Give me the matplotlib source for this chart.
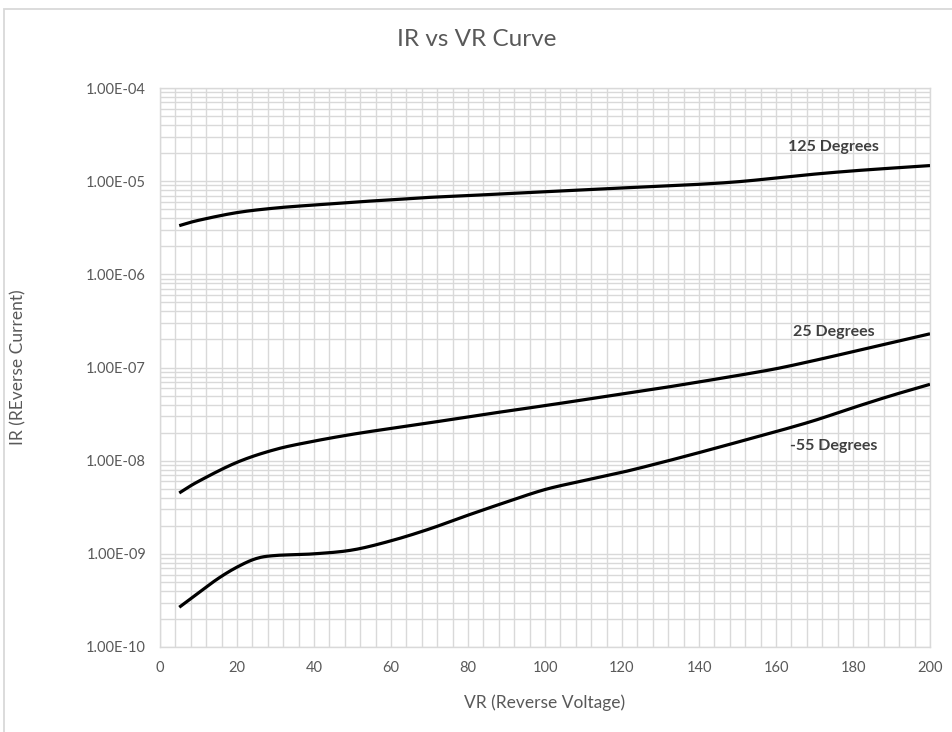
import matplotlib
matplotlib.use("Agg")
import matplotlib.pyplot as plt
from matplotlib.ticker import LogLocator, MultipleLocator, FixedLocator, NullFormatter
from matplotlib.patches import Rectangle
import numpy as np

plt.rcParams['font.family'] = ['Lato', 'DejaVu Sans']

# ---------------- data ----------------
vr = [5, 10, 20, 30, 40, 50, 60, 70, 80, 90, 100, 110, 120, 130, 140, 150, 160, 170, 180, 190, 200]

ir_125 = [3.33e-6, 3.8e-6, 4.6e-6, 5.15e-6, 5.55e-6, 5.95e-6, 6.3e-6, 6.7e-6, 7.0e-6, 7.35e-6,
          7.7e-6, 8.05e-6, 8.45e-6, 8.85e-6, 9.25e-6, 9.85e-6, 1.08e-5, 1.19e-5, 1.29e-5, 1.38e-5, 1.47e-5]

ir_25 = [4.5e-9, 6.0e-9, 9.6e-9, 1.32e-8, 1.62e-8, 1.92e-8, 2.22e-8, 2.55e-8, 2.95e-8, 3.4e-8,
         3.9e-8, 4.5e-8, 5.2e-8, 6.0e-8, 7.0e-8, 8.2e-8, 9.7e-8, 1.19e-7, 1.48e-7, 1.85e-7, 2.3e-7]

vr_m55 = [5, 10, 15, 20, 25, 30, 40, 50, 60, 70, 80, 90, 100, 110, 120, 130, 140, 150, 160, 170, 180, 190, 200]
ir_m55 = [2.67e-10, 3.8e-10, 5.4e-10, 7.2e-10, 8.9e-10, 9.6e-10, 1.0e-9, 1.1e-9, 1.38e-9, 1.85e-9,
          2.6e-9, 3.6e-9, 4.9e-9, 6.1e-9, 7.5e-9, 9.5e-9, 1.22e-8, 1.58e-8, 2.05e-8, 2.7e-8, 3.7e-8, 5.0e-8, 6.6e-8]

series_labels = ["125 Degrees", "25 Degrees", "-55 Degrees"]
label_x = [175, 175, 175]
label_y = [2.3e-5, 2.4e-7, 1.45e-8]

x_ticks = [0, 20, 40, 60, 80, 100, 120, 140, 160, 180, 200]
y_ticks = [1e-10, 1e-9, 1e-8, 1e-7, 1e-6, 1e-5, 1e-4]
y_tick_labels = ["1.00E-10", "1.00E-09", "1.00E-08", "1.00E-07", "1.00E-06", "1.00E-05", "1.00E-04"]

title = "IR vs VR Curve"
xlabel = "VR (Reverse Voltage)"
ylabel = "IR (REverse Current)"


def smooth(xs, ys, n=16):
    """Catmull-Rom smoothing (like Excel's smoothed line), in x / log10(y) space."""
    x = np.asarray(xs, float)
    y = np.log10(np.asarray(ys, float))
    px = np.concatenate([[2 * x[0] - x[1]], x, [2 * x[-1] - x[-2]]])
    py = np.concatenate([[2 * y[0] - y[1]], y, [2 * y[-1] - y[-2]]])
    ox, oy = [], []
    t = np.linspace(0, 1, n, endpoint=False)
    for i in range(1, len(px) - 2):
        for arr, out in ((px, ox), (py, oy)):
            p0, p1, p2, p3 = arr[i - 1], arr[i], arr[i + 1], arr[i + 2]
            out.extend(0.5 * ((2 * p1) + (-p0 + p2) * t + (2 * p0 - 5 * p1 + 4 * p2 - p3) * t ** 2
                              + (-p0 + 3 * p1 - 3 * p2 + p3) * t ** 3))
    ox.append(x[-1])
    oy.append(y[-1])
    return np.array(ox), 10 ** np.array(oy)


# ---------------- figure ----------------
W, H = 952, 732
fig = plt.figure(figsize=(W / 100, H / 100), dpi=100)
ax = fig.add_axes([160 / W, 1 - 647 / H, (930 - 160) / W, (647 - 88) / H])

grid_c = "#d9d9d9"
text_c = "#595959"

# chart border (light grey)
fig.patches.append(Rectangle((4 / W, -0.05), 1.2, 1 - 9 / H + 0.05, transform=fig.transFigure,
                             fill=False, edgecolor=grid_c, lw=1.3, zorder=0))

ax.set_yscale("log")
ax.set_xlim(0, 200)
ax.set_ylim(1e-10, 1e-4)

for xs, ys in ((vr, ir_125), (vr, ir_25), (vr_m55, ir_m55)):
    sx, sy = smooth(xs, ys)
    ax.plot(sx, sy, color="black", lw=2.3, solid_capstyle="butt", zorder=3)

for t, xx, yy in zip(series_labels, label_x, label_y):
    ax.text(xx, yy, t, ha="center", va="center", fontsize=11.5, fontweight="bold", color="#404040")

ax.xaxis.set_major_locator(FixedLocator(x_ticks))
ax.xaxis.set_minor_locator(MultipleLocator(4))
ax.yaxis.set_major_locator(FixedLocator(y_ticks))
ax.set_yticklabels(y_tick_labels)
ax.yaxis.set_minor_locator(LogLocator(base=10, subs=np.arange(2, 10), numticks=20))
ax.yaxis.set_minor_formatter(NullFormatter())

ax.grid(True, which="both", color=grid_c, lw=1.0, zorder=0)
ax.set_axisbelow(True)
ax.tick_params(which="both", length=0, colors=text_c, labelsize=10.5)
ax.tick_params(axis="x", pad=10)
ax.tick_params(axis="y", pad=10)
for s in ax.spines.values():
    s.set_color(grid_c)
    s.set_linewidth(1.0)

ax.set_xlabel(xlabel, fontsize=12.5, color=text_c)
ax.set_ylabel(ylabel, fontsize=12.5, color=text_c)
ax.xaxis.set_label_coords(0.5, -(703 - 647) / (647 - 88), transform=ax.transAxes)
ax.yaxis.set_label_coords((18 - 160) / (930 - 160), 0.5, transform=ax.transAxes)
ax.xaxis.label.set_va("center")
ax.yaxis.label.set_va("center")
fig.text(477 / W, 1 - 40 / H, title, ha="center", va="center", fontsize=17.5, color=text_c)

fig.savefig("out.png", dpi=100, facecolor="white")
